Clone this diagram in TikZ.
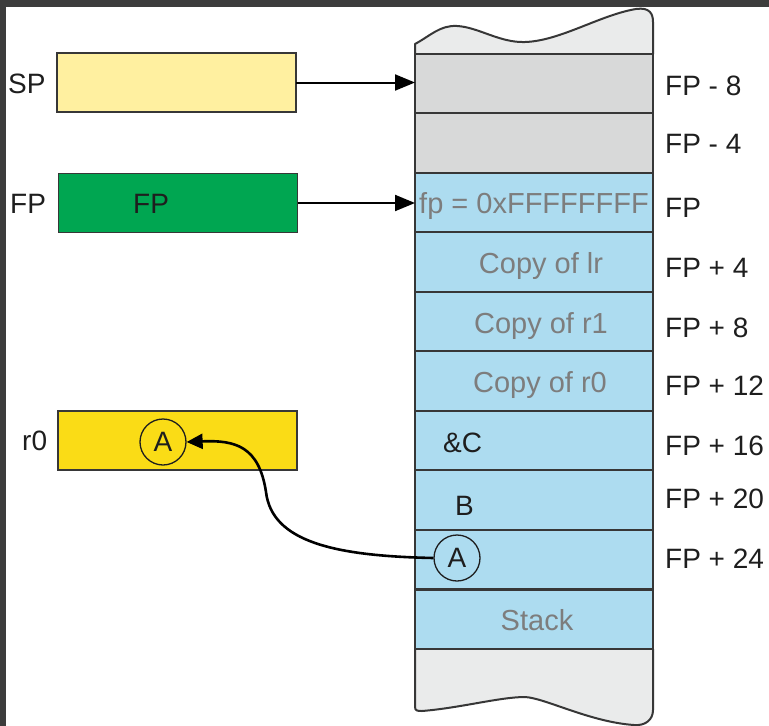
\documentclass[tikz,border=0pt]{standalone}
\usepackage{fontspec}
\setmainfont{Liberation Sans}
\usetikzlibrary{arrows.meta}

\definecolor{framec}{RGB}{60,60,60}
\definecolor{linec}{RGB}{55,55,55}
\definecolor{wavec}{RGB}{234,235,235}
\definecolor{slotgray}{RGB}{216,217,217}
\definecolor{slotblue}{RGB}{173,220,240}
\definecolor{regpale}{RGB}{255,240,160}
\definecolor{reggreen}{RGB}{0,166,81}
\definecolor{regyellow}{RGB}{250,220,22}
\definecolor{dimtext}{RGB}{125,125,125}
\definecolor{inktext}{RGB}{30,30,30}

\begin{document}
\begin{tikzpicture}[x=1pt,y=-1pt,
  cell/.style={draw=linec, line width=2pt, minimum width=238pt, minimum height=59.5pt,
    inner sep=0pt, outer sep=0pt},
  regbox/.style={draw=linec, line width=1.5pt, minimum width=239pt, minimum height=59pt,
    inner sep=0pt, outer sep=0pt},
  outline/.style={draw=linec, line width=2pt, line join=round},
  lbl/.style={font=\fontsize{28}{30}\selectfont, text=inktext, inner sep=0pt, anchor=base west},
  dimlbl/.style={font=\fontsize{29}{31}\selectfont, text=dimtext, inner sep=0pt, anchor=base},
  ring/.style={circle, draw=inktext, line width=1.3pt, minimum size=46pt, inner sep=0pt,
    font=\fontsize{28}{30}\selectfont, text=inktext},
  ptr/.style={draw=black, line width=2pt, -{Triangle[length=20pt,width=16pt]}},
  curveptr/.style={draw=black, line width=2.6pt, -{Triangle[length=16pt,width=15pt]}}
]
\useasboundingbox (0,0) rectangle (769,726);
\fill[white] (0,0) rectangle (769,726);

% dark frame along the top and left edges
\fill[framec] (0,0) rectangle (769,7);
\fill[framec] (0,0) rectangle (6,726);

% torn ends of the memory column
\draw[outline, fill=wavec] (415,54) -- (415,44)
  .. controls (430,36) and (440,25) .. (457,26)
  .. controls (478,27) and (500,43) .. (525,42)
  .. controls (560,41) and (600,15) .. (636,9)
  .. controls (650,7) and (653,14) .. (653,22) -- (653,54);
\draw[outline, fill=wavec] (415,649) -- (415,707)
  .. controls (415,711) and (418,711) .. (422,711)
  .. controls (460,708) and (500,697) .. (525,697)
  .. controls (545,698) and (590,722) .. (634,725)
  .. controls (645,726) and (653,720) .. (653,710) -- (653,649);

% memory slots
\node[cell, fill=slotgray] (c1)  at (534,83.3)  {};
\node[cell, fill=slotgray] (c2)  at (534,142.9) {};
\node[cell, fill=slotblue] (c3)  at (534,202.4) {};
\node[cell, fill=slotblue] (c4)  at (534,262.0) {};
\node[cell, fill=slotblue] (c5)  at (534,321.5) {};
\node[cell, fill=slotblue] (c6)  at (534,381.1) {};
\node[cell, fill=slotblue] (c7)  at (534,440.6) {};
\node[cell, fill=slotblue] (c8)  at (534,500.2) {};
\node[cell, fill=slotblue] (c9)  at (534,559.7) {};
\node[cell, fill=slotblue] (c10) at (534,619.3) {};

% slot contents
\node[dimlbl] (t3)  at (534,213) {fp = 0xFFFFFFFF};
\node[dimlbl] (t4)  at (541,273) {Copy of lr};
\node[dimlbl] (t5)  at (541,333) {Copy of r1};
\node[dimlbl] (t6)  at (540,392) {Copy of r0};
\node[lbl]    (t7)  at (443,452) {\&C};
\node[lbl]    (t8)  at (455,515) {B};
\node[ring]   (ast) at (457,558) {A};
\node[dimlbl] (t10) at (537,630) {Stack};

% offsets from the frame pointer
\node[lbl] (o1) at (665,95)  {FP - 8};
\node[lbl] (o2) at (665,153) {FP - 4};
\node[lbl] (o3) at (665,217) {FP};
\node[lbl] (o4) at (665,277) {FP + 4};
\node[lbl] (o5) at (665,337) {FP + 8};
\node[lbl] (o6) at (665,395) {FP + 12};
\node[lbl] (o7) at (665,455) {FP + 16};
\node[lbl] (o8) at (665,508) {FP + 20};
\node[lbl] (o9) at (665,568) {FP + 24};

% registers
\node[regbox, fill=regpale]   (sp) at (176.5,82.5) {};
\node[regbox, fill=reggreen]  (fp) at (178,203)    {};
\node[regbox, fill=regyellow] (r0) at (177.5,440.5) {};
\node[lbl] (lsp) at (8,93)   {SP};
\node[lbl] (lfp) at (10,213) {FP};
\node[lbl] (lr0) at (22,450) {r0};
\node[lbl] (ifp) at (133,213) {FP};
\node[ring] (ar) at (163,442) {A};

% pointers into the stack
\draw[ptr] (sp.east) -- (sp.east -| c1.west);
\draw[ptr] (fp.east) -- (fp.east -| c3.west);

% value A loaded from the stack into r0
\coordinate (bend) at (266,492);
\draw[curveptr] (ast.west) .. controls (335,556) and (272,542) .. (bend)
  .. controls (259,446) and (235,440) .. (ar.east);
\end{tikzpicture}
\end{document}
